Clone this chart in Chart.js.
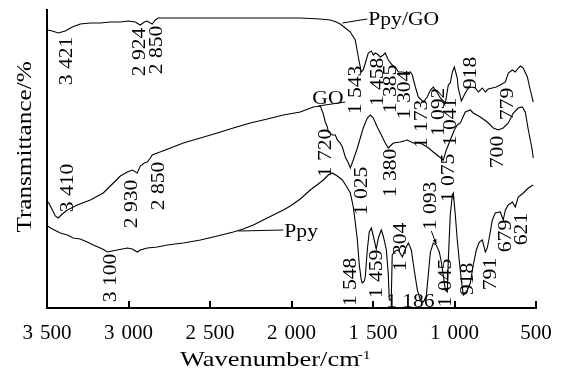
<!DOCTYPE html>
<html><head><meta charset="utf-8">
<script src="https://cdn.jsdelivr.net/npm/chart.js@4.4.0/dist/chart.umd.min.js"></script>
<style>html,body{margin:0;padding:0;background:#fff}canvas{display:block}</style>
</head><body>
<canvas id="c" width="571" height="371"></canvas>
<script>
// ---- data ----
const ppyGoWavenumber = [3498,3467,3431,3388,3345,3296,3234,3173,3112,3050,3001,2958,2928,2903,2885,2866,2854,2836,2817,2559,2253,1946,1823,1762,1725,1701,1670,1639,1609,1590,1572,1560,1547,1529,1510,1498,1486,1474,1455,1437,1425,1406,1382,1363,1345,1320,1290,1271,1259,1240,1222,1191,1167,1148,1130,1105,1087,1056,1038,1026,1013,1001,983,977,958,946,934,915,891,872,854,829,811,793,768,744,719,688,670,645,627,609,596,578,553,535,517];
const ppyGoTransmittance = [278,277,275,277,281,284,285,285,286,286,287,286,283,286,287,285,284,288,290,290,290,290,289,288,286,284,280,276,268,251,236,238,245,255,257,253,255,254,251,253,255,248,243,241,236,236,235,236,233,221,211,206,211,218,221,215,210,205,223,225,236,241,230,220,207,211,215,220,221,220,216,220,216,219,220,221,223,226,235,238,236,240,242,240,231,218,206];

const goWavenumber = [3492,3467,3449,3431,3406,3375,3314,3234,3155,3093,3050,3007,2977,2946,2928,2903,2885,2866,2854,2823,2774,2664,2559,2455,2357,2253,2148,2050,1946,1866,1823,1805,1793,1780,1774,1750,1731,1719,1701,1688,1670,1651,1639,1621,1596,1578,1560,1535,1517,1498,1474,1455,1425,1406,1388,1375,1332,1290,1253,1210,1167,1130,1099,1069,1050,1026,1001,983,964,934,903,885,842,799,762,731,701,670,639,609,584,566,547,523,517];
const goTransmittance = [106,98,92,90,94,98,103,108,115,125,132,136,138,135,142,145,146,150,153,155,158,165,170,175,180,185,189,193,196,201,202,194,186,181,176,173,173,168,165,161,151,145,140,148,160,170,180,190,193,190,181,175,165,160,163,165,166,168,165,165,161,156,152,148,158,168,178,183,185,196,198,195,191,186,180,178,180,185,195,200,201,196,178,158,150];

const ppyWavenumber = [3498,3467,3418,3375,3339,3296,3253,3216,3173,3148,3130,3099,3069,3038,3007,2977,2946,2928,2885,2823,2762,2664,2559,2455,2357,2296,2234,2173,2112,2050,2007,1946,1885,1836,1805,1774,1750,1719,1688,1664,1639,1621,1609,1596,1584,1572,1566,1553,1547,1535,1523,1510,1498,1480,1467,1449,1437,1418,1406,1400,1388,1382,1363,1345,1320,1302,1283,1265,1247,1228,1210,1191,1173,1161,1148,1130,1112,1093,1081,1069,1056,1044,1038,1026,1013,1007,995,983,970,958,946,934,921,903,885,866,848,829,811,799,786,768,750,719,701,688,670,645,627,609,578,547,517];
const ppyTransmittance = [82,79,75,73,70,69,66,63,60,58,56,57,58,59,60,59,56,58,60,61,63,65,68,72,76,79,83,88,93,98,102,109,118,124,128,133,135,132,128,122,115,101,86,68,43,28,25,27,32,58,76,80,72,59,70,78,72,58,33,8,8,53,57,58,51,59,65,58,38,18,8,6,12,33,56,65,63,56,46,33,18,16,48,93,113,115,93,68,46,28,13,15,18,25,43,58,66,68,56,60,71,88,95,96,88,98,103,106,101,111,115,120,123];

const xTickValues = [3500,3000,2500,2000,1500,1000,500];
const xTickLabels = ['3\u2004500','3\u2004000','2\u2004500','2\u2004000','1\u2004500','1\u2004000','500'];

// peak annotations: [text, wavenumber, transmittance]
const peakLabels = [
  ['3 421',3382,247],['2 924',2934,256],['2 850',2829,258],['1 543',1609,218],['1 458',1474,226],
  ['1 385',1394,219],['1 304',1308,213],['1 173',1204,184],['1 092',1099,196],['1 041',1026,186],
  ['918',903,235],['779',676,204],
  ['3 410',3375,120],['2 930',2983,104],['2 850',2817,122],['1 720',1793,155],['1 025',1572,117],
  ['1 380',1394,135],['1 075',1038,130],['700',737,156],
  ['3 100',3112,30],['1 548',1639,26],['1 459',1480,34],['1 304',1332,61],['1 093',1148,102],
  ['1 045',1056,25],['918',921,29],['791',780,34],['679',688,72],['621',590,79]
];
const flatLabels = [['1 186',1271,1]];
const seriesNames = [['Ppy/GO',1529,283],['GO',1872,204],['Ppy',2044,71]];
const leaderLines = [[1688,285,1535,289],[1836,202,1670,206],[2326,77,2050,78]];
const arrowLines = [[1142,77,1112,64]];

const STRETCH = 1.2;
const FONT = '"Liberation Serif","Times New Roman",serif';

function pts(w, v){ return w.map((x,i)=>({x:x, y:v[i]})); }

function drawText(ctx, text, px, py, o){
  ctx.save();
  ctx.translate(px, py);
  if (o.rot) ctx.rotate(-Math.PI/2);
  ctx.scale(STRETCH, 1);
  ctx.font = o.size + 'px ' + FONT;
  ctx.textAlign = o.align || 'center';
  ctx.textBaseline = 'alphabetic';
  ctx.fillText(text, 0, o.dy || 0);
  ctx.restore();
}

const annot = {
  id: 'annot',
  afterDatasetsDraw(chart){
    const {ctx, chartArea:a, scales:{x, y}} = chart;
    ctx.save();
    ctx.fillStyle = '#000'; ctx.strokeStyle = '#000';
    // inward tick marks
    ctx.lineWidth = 2;
    x.ticks.forEach(t => {
      const px = Math.round(x.getPixelForValue(t.value));
      ctx.beginPath(); ctx.moveTo(px, a.bottom); ctx.lineTo(px, a.bottom - 7); ctx.stroke();
    });
    // leader lines
    ctx.lineWidth = 1;
    leaderLines.forEach(([w1,v1,w2,v2]) => {
      ctx.beginPath();
      ctx.moveTo(x.getPixelForValue(w1), y.getPixelForValue(v1));
      ctx.lineTo(x.getPixelForValue(w2), y.getPixelForValue(v2));
      ctx.stroke();
    });
    arrowLines.forEach(([w1,v1,w2,v2]) => {
      const x1 = x.getPixelForValue(w1), y1 = y.getPixelForValue(v1);
      const x2 = x.getPixelForValue(w2), y2 = y.getPixelForValue(v2);
      ctx.beginPath(); ctx.moveTo(x1,y1); ctx.lineTo(x2,y2); ctx.stroke();
      const ang = Math.atan2(y2-y1, x2-x1);
      ctx.beginPath();
      ctx.moveTo(x2,y2);
      ctx.lineTo(x2 - 5*Math.cos(ang-0.4), y2 - 5*Math.sin(ang-0.4));
      ctx.lineTo(x2 - 5*Math.cos(ang+0.4), y2 - 5*Math.sin(ang+0.4));
      ctx.closePath(); ctx.fill();
    });
    seriesNames.forEach(([t,w,v]) => drawText(ctx, t, x.getPixelForValue(w), y.getPixelForValue(v), {size:18, align:'left'}));
    peakLabels.forEach(([t,w,v]) => drawText(ctx, t, x.getPixelForValue(w), y.getPixelForValue(v), {size:18, rot:true, dy:6}));
    flatLabels.forEach(([t,w,v]) => drawText(ctx, t, x.getPixelForValue(w), y.getPixelForValue(v), {size:18}));
    // axis titles
    drawText(ctx, 'Transmittance/%', a.left - 16, (a.top + a.bottom)/2 - 12, {size:21, rot:true});
    const tx = a.left + 133, ty = a.bottom + 58;
    drawText(ctx, 'Wavenumber/cm', tx, ty, {size:22, align:'left'});
    ctx.font = '22px ' + FONT;
    const w = ctx.measureText('Wavenumber/cm').width * STRETCH;
    drawText(ctx, '-1', tx + w - 2, ty - 7, {size:13, align:'left'});
    ctx.restore();
  }
};

const lineStyle = {borderColor:'#000', borderWidth:1.1, pointRadius:0, fill:false, tension:0};

new Chart(document.getElementById('c'), {
  type: 'line',
  data: { datasets: [
    Object.assign({label:'Ppy/GO', data: pts(ppyGoWavenumber, ppyGoTransmittance)}, lineStyle),
    Object.assign({label:'GO', data: pts(goWavenumber, goTransmittance)}, lineStyle),
    Object.assign({label:'Ppy', data: pts(ppyWavenumber, ppyTransmittance)}, lineStyle)
  ]},
  options: {
    responsive: false, animation: false, devicePixelRatio: 1,
    layout: { padding: {top:10, right:35, left:0, bottom:0} },
    plugins: { legend: {display:false}, tooltip: {enabled:false} },
    scales: {
      x: {
        type: 'linear', reverse: true, min: 500, max: 3500,
        afterBuildTicks(s){ s.ticks = xTickValues.map(v => ({value:v})); },
        ticks: {
          callback: v => xTickLabels[xTickValues.indexOf(v)],
          font: {family: FONT, size: 21}, color: '#000', padding: 13,
          maxRotation: 0, autoSkip: false
        },
        grid: {display:false, drawTicks:false},
        border: {display:true, color:'#000', width:2},
        afterFit(s){ s.height = 63; }
      },
      y: {
        type: 'linear', min: 0, max: 298,
        ticks: {display:false},
        grid: {display:false, drawTicks:false},
        border: {display:true, color:'#000', width:2},
        afterFit(s){ s.width = 47; }
      }
    }
  },
  plugins: [annot]
});
</script>
</body></html>
